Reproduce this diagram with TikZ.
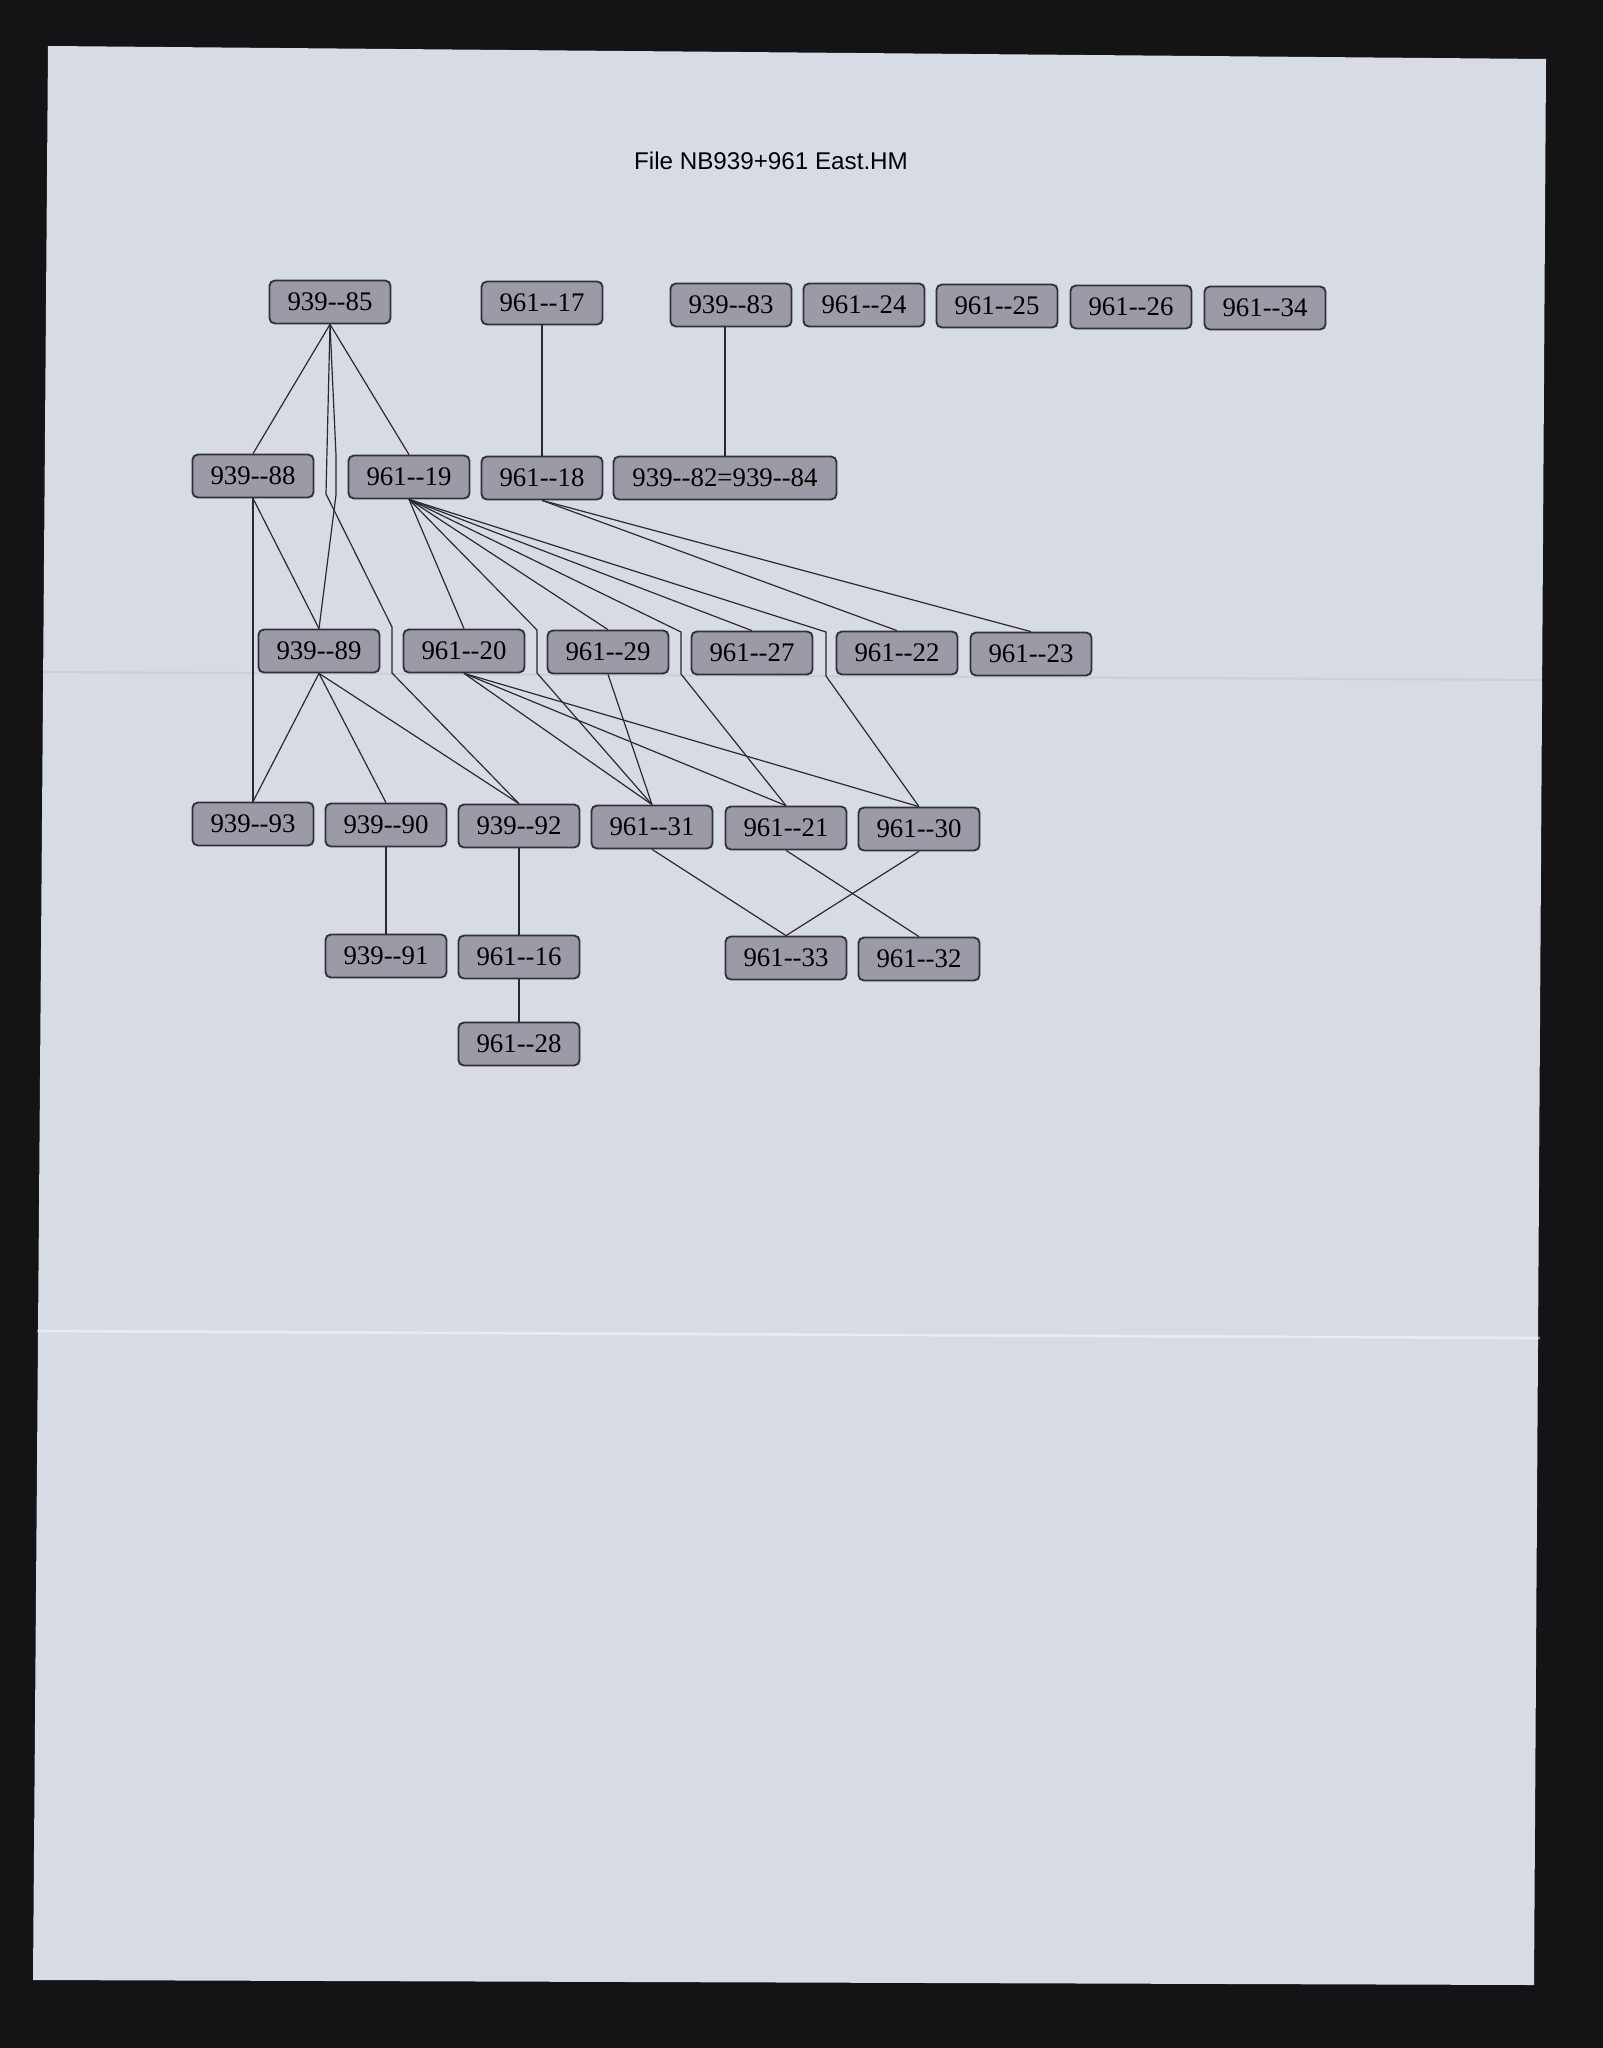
\documentclass[tikz,border=0pt]{standalone}
\usepackage{fontspec}
\setmainfont{Liberation Serif}
\newfontfamily\titrefont{Liberation Sans}
\definecolor{fond}{RGB}{20,20,22}
\definecolor{papier}{RGB}{214,219,228}
\definecolor{gris}{RGB}{155,154,166}
\definecolor{bord}{RGB}{48,48,62}
\definecolor{trait}{RGB}{40,40,48}
\newcommand{\lab}[2]{#1-\kern0pt-#2}

\begin{document}
\begin{tikzpicture}[x=0.38pt,y=-0.38pt,
    fiche/.style={draw=bord,fill=gris,line width=0.7pt,rounded corners=2pt,
        minimum width=46pt,minimum height=16.3pt,inner sep=0pt,
        font=\fontsize{10.2}{12}\selectfont},
    lien/.style={draw=trait,line width=0.45pt}]

        % Fond et feuille
        \fill[fond] (0,0) rectangle (1603,2048);
        \useasboundingbox (0,0) rectangle (1603,2048);
        \fill[papier] (48,46) -- (1546,59) -- (1534,1985) -- (33,1980) -- cycle;
        \draw[white,opacity=0.45,line width=1pt] (37,1331) -- (1540,1338);
        \draw[black,opacity=0.05,line width=0.8pt] (42,672) -- (1544,680);

        % Titre
        \node (titre) at (771,161) {\titrefont\fontsize{9.2}{10}\selectfont File NB939+961 East.HM};

        % Premiere rangee
        \node[fiche] (n85) at (330,302) {\lab{939}{85}};
        \node[fiche] (n17) at (542,303) {\lab{961}{17}};
        \node[fiche] (n83) at (731,305) {\lab{939}{83}};
        \node[fiche] (n24) at (864,305) {\lab{961}{24}};
        \node[fiche] (n25) at (997,306) {\lab{961}{25}};
        \node[fiche] (n26) at (1131,307) {\lab{961}{26}};
        \node[fiche] (n34) at (1265,308) {\lab{961}{34}};

        % Deuxieme rangee
        \node[fiche] (n88) at (253,476) {\lab{939}{88}};
        \node[fiche] (n19) at (409,477) {\lab{961}{19}};
        \node[fiche] (n18) at (542,478) {\lab{961}{18}};
        \node[fiche,minimum width=84.7pt] (n82) at (725,478) {\lab{939}{82}=\lab{939}{84}};

        % Troisieme rangee
        \node[fiche] (n89) at (319,651) {\lab{939}{89}};
        \node[fiche] (n20) at (464,651) {\lab{961}{20}};
        \node[fiche] (n29) at (608,652) {\lab{961}{29}};
        \node[fiche] (n27) at (752,653) {\lab{961}{27}};
        \node[fiche] (n22) at (897,653) {\lab{961}{22}};
        \node[fiche] (n23) at (1031,654) {\lab{961}{23}};

        % Quatrieme rangee
        \node[fiche] (n93) at (253,824) {\lab{939}{93}};
        \node[fiche] (n90) at (386,825) {\lab{939}{90}};
        \node[fiche] (n92) at (519,826) {\lab{939}{92}};
        \node[fiche] (n31) at (652,827) {\lab{961}{31}};
        \node[fiche] (n21) at (786,828) {\lab{961}{21}};
        \node[fiche] (n30) at (919,829) {\lab{961}{30}};

        % Cinquieme et sixieme rangees
        \node[fiche] (n91) at (386,956) {\lab{939}{91}};
        \node[fiche] (n16) at (519,957) {\lab{961}{16}};
        \node[fiche] (n33) at (786,958) {\lab{961}{33}};
        \node[fiche] (n32) at (919,959) {\lab{961}{32}};
        \node[fiche] (n28) at (519,1044) {\lab{961}{28}};

        % Points de passage des liens longs
        \coordinate (a1) at (336,455);
        \coordinate (a2) at (336,495);
        \coordinate (b1) at (326,494);
        \coordinate (b2) at (392,627);
        \coordinate (b3) at (392,673);
        \coordinate (c1) at (537,630);
        \coordinate (c2) at (537,673);
        \coordinate (d1) at (681,632);
        \coordinate (d2) at (681,674);
        \coordinate (e1) at (826,632);
        \coordinate (e2) at (826,676);

        % Liens depuis la premiere rangee
        \draw[lien] (n85.south) -- (n88.north);
        \draw[lien] (n85.south) -- (n19.north);
        \draw[lien] (n85.south) -- (a1) -- (a2) -- (n89.north);
        \draw[lien] (n85.south) -- (b1) -- (b2) -- (b3) -- (n92.north);
        \draw[lien] (n17.south) -- (n18.north);
        \draw[lien] (n82.north |- n83.south) -- (n82.north);

        % Liens depuis la deuxieme rangee
        \draw[lien] (n88.south) -- (n89.north);
        \draw[lien] (n88.south) -- (n93.north);
        \draw[lien] (n19.south) -- (n20.north);
        \draw[lien] (n19.south) -- (c1) -- (c2) -- (n31.north);
        \draw[lien] (n19.south) -- (n29.north);
        \draw[lien] (n19.south) -- (d1) -- (d2) -- (n21.north);
        \draw[lien] (n19.south) -- (n27.north);
        \draw[lien] (n19.south) -- (e1) -- (e2) -- (n30.north);
        \draw[lien] (n18.south) -- (n22.north);
        \draw[lien] (n18.south) -- (n23.north);

        % Liens depuis la troisieme rangee
        \draw[lien] (n89.south) -- (n93.north);
        \draw[lien] (n89.south) -- (n90.north);
        \draw[lien] (n89.south) -- (n92.north);
        \draw[lien] (n20.south) -- (n31.north);
        \draw[lien] (n20.south) -- (n21.north);
        \draw[lien] (n20.south) -- (n30.north);
        \draw[lien] (n29.south) -- (n31.north);

        % Liens vers le bas
        \draw[lien] (n90.south) -- (n91.north);
        \draw[lien] (n92.south) -- (n16.north);
        \draw[lien] (n16.south) -- (n28.north);
        \draw[lien] (n31.south) -- (n33.north);
        \draw[lien] (n21.south) -- (n32.north);
        \draw[lien] (n30.south) -- (n33.north);
    \end{tikzpicture}
\end{document}
